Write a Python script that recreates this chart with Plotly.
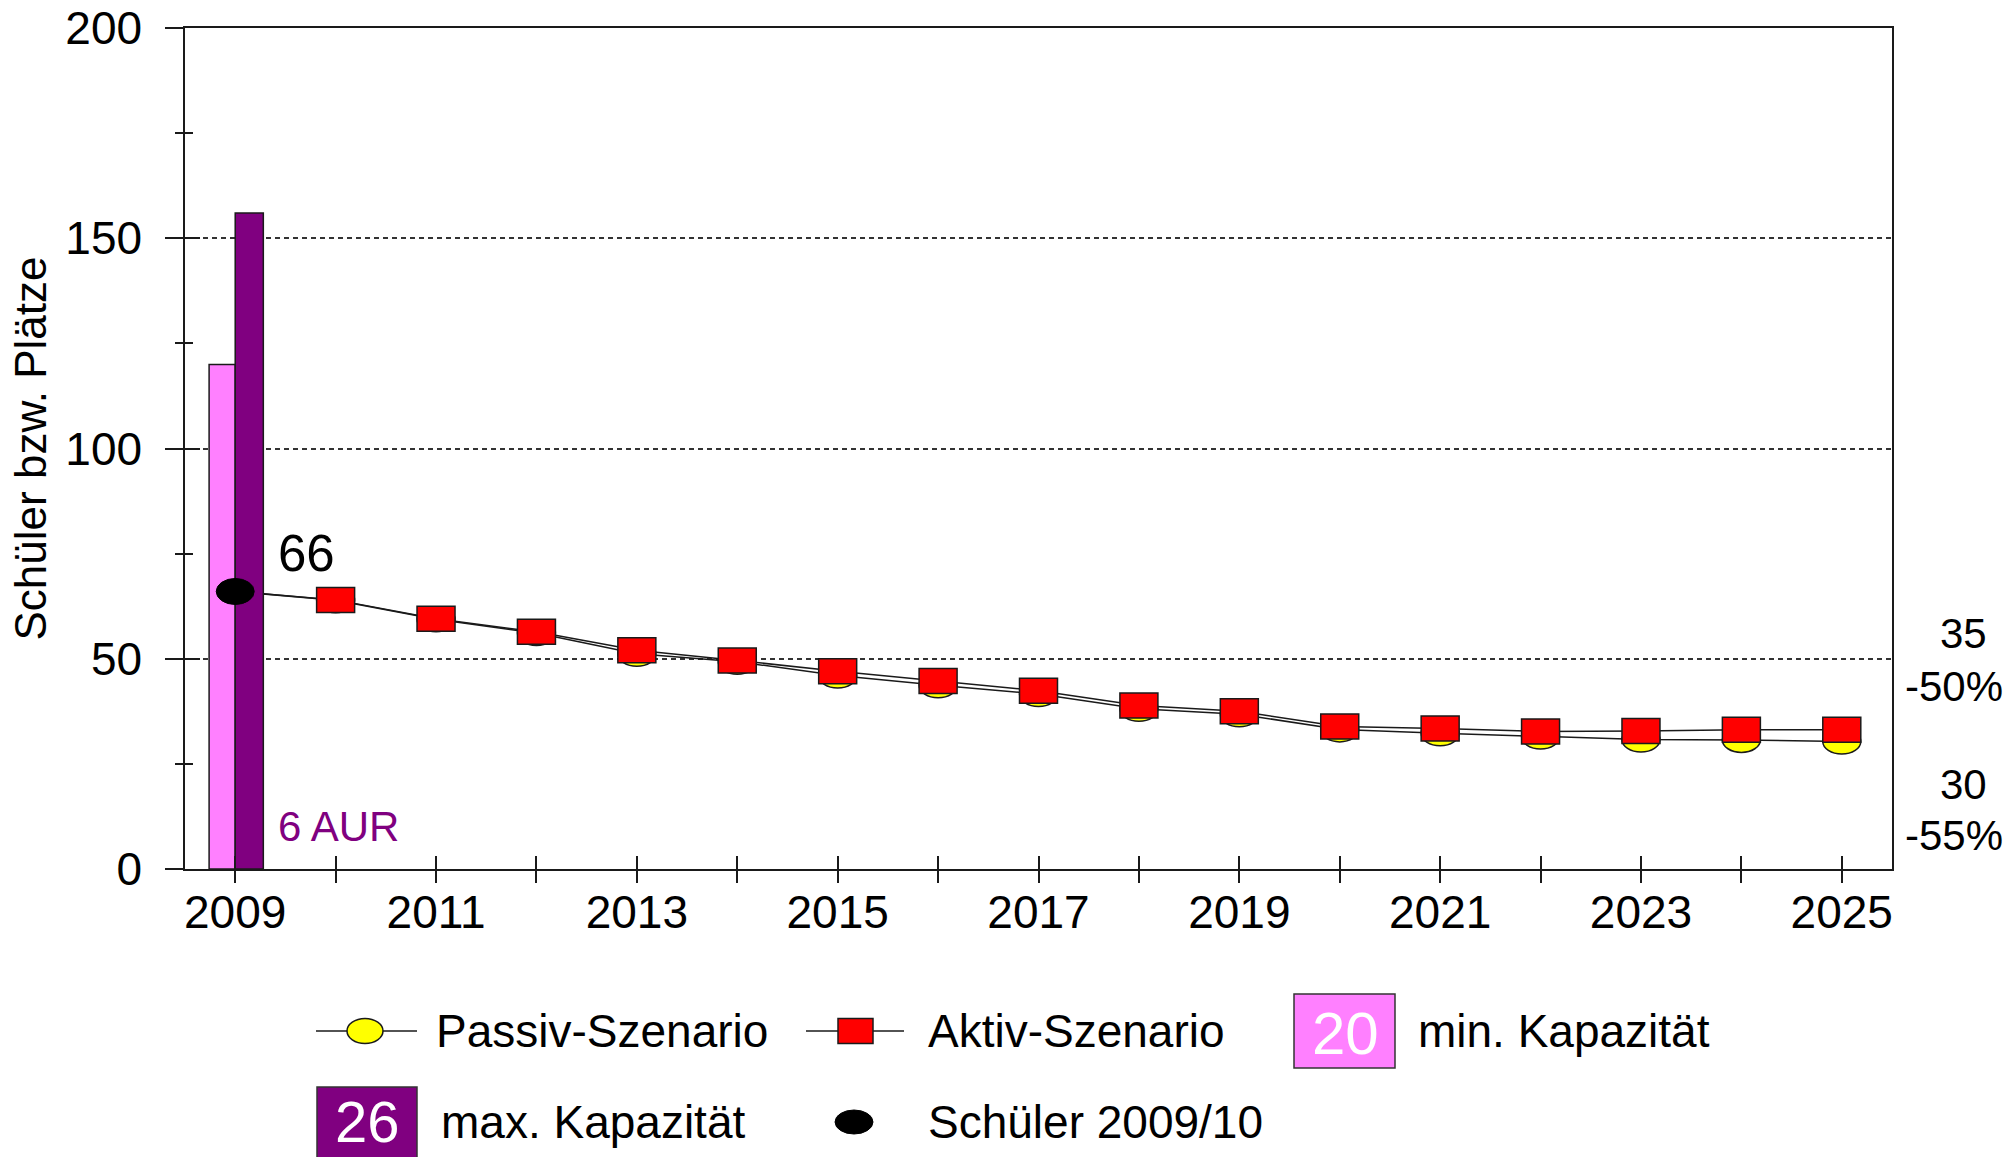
import plotly.graph_objects as go

# ---------------- data ----------------
years = [2009, 2010, 2011, 2012, 2013, 2014, 2015, 2016, 2017,
         2018, 2019, 2020, 2021, 2022, 2023, 2024, 2025]
aktiv = [66, 64, 59.5, 56.4, 52, 49.6, 47, 44.7, 42.4,
         38.9, 37.5, 33.9, 33.4, 32.7, 32.8, 33.1, 33.1]
passiv = [66, 63.9, 59.4, 56.1, 51.2, 49.3, 46, 43.7, 41.6,
          38.1, 36.8, 33.2, 32.3, 31.5, 30.8, 30.7, 30.3]
schueler_year = 2009
schueler_value = 66
cap_min = 120          # 6 classes x 20
cap_max = 156          # 6 classes x 26
cap_min_per_class = "20"
cap_max_per_class = "26"
school_label = "6 AUR"
end_labels = [("35", "-50%"), ("30", "-55%")]
x_tickvals = years
x_ticktext = ["2009", "", "2011", "", "2013", "", "2015", "", "2017", "",
              "2019", "", "2021", "", "2023", "", "2025"]
y_tickvals = [0, 50, 100, 150, 200]
y_ticktext = ["0", "50", "100", "150", "200"]
y_minor = [25, 75, 125, 175]

# ---------------- style ----------------
FONT = "Arial, Liberation Sans, sans-serif"
INK = "#1a1a1a"
PINK = "#FF80FF"
PURPLE = "#800080"
RED = "#FF0000"
YELLOW = "#FFFF00"
TICK_SIZE = 46
LEG_SIZE = 46

W, H = 2010, 1157
L, R, T, B = 185, 1892, 28, 869
PW, PH = R - L, B - T


def fx(px):
    return (px - L) / PW


def fy(py):
    return (B - py) / PH


fig = go.Figure()

# lines (base subplot)
for vals in (passiv, aktiv):
    fig.add_trace(go.Scatter(x=years, y=vals, mode="lines",
                             line=dict(color=INK, width=1.5),
                             showlegend=False, hoverinfo="skip"))

# capacity bars (overlay subplot, drawn on top of lines)
fig.add_trace(go.Bar(x=[schueler_year], y=[cap_min], width=0.26, offset=-0.26,
                     marker=dict(color=PINK, line=dict(color=INK, width=1.5)),
                     xaxis="x2", yaxis="y2", showlegend=False))
fig.add_trace(go.Bar(x=[schueler_year], y=[cap_max], width=0.28, offset=0,
                     marker=dict(color=PURPLE, line=dict(color=INK, width=1.5)),
                     xaxis="x2", yaxis="y2", showlegend=False))

shapes = []
# passive markers: yellow ellipses (pixel-sized, anchored to data)
for yr, v in zip(years[1:], passiv[1:]):
    shapes.append(dict(type="circle", xref="x", yref="y",
                       xsizemode="pixel", ysizemode="pixel",
                       xanchor=yr, yanchor=v, x0=-19, x1=19, y0=-12.5, y1=12.5,
                       fillcolor=YELLOW, line=dict(color=INK, width=1.5)))
# active markers: red rectangles
for yr, v in zip(years[1:], aktiv[1:]):
    shapes.append(dict(type="rect", xref="x", yref="y",
                       xsizemode="pixel", ysizemode="pixel",
                       xanchor=yr, yanchor=v, x0=-19, x1=19, y0=-12.5, y1=12.5,
                       fillcolor=RED, line=dict(color=INK, width=1.5)))
# pupils 2009/10: black ellipse
shapes.append(dict(type="circle", xref="x", yref="y",
                   xsizemode="pixel", ysizemode="pixel",
                   xanchor=schueler_year, yanchor=schueler_value,
                   x0=-19, x1=19, y0=-13, y1=13,
                   fillcolor="black", line=dict(color="black", width=1)))

annotations = []
annotations.append(dict(x=schueler_year, y=schueler_value, xref="x", yref="y",
                        text=str(schueler_value), showarrow=False,
                        xanchor="left", yanchor="middle", xshift=41, yshift=38,
                        font=dict(family=FONT, size=51, color="black")))
annotations.append(dict(x=schueler_year, y=fy(826), xref="x", yref="paper",
                        text=school_label, showarrow=False,
                        xanchor="left", yanchor="middle", xshift=41,
                        font=dict(family=FONT, size=42, color=PURPLE)))

# end labels at right
for (num, pct), (cy1, cy2) in zip(end_labels, [(633.5, 686), (784, 835)]):
    annotations.append(dict(x=fx(1964), y=fy(cy1), xref="paper", yref="paper",
                            text=num, showarrow=False, xanchor="center",
                            yanchor="middle",
                            font=dict(family=FONT, size=42, color="black")))
    annotations.append(dict(x=fx(1954), y=fy(cy2), xref="paper", yref="paper",
                            text=pct, showarrow=False, xanchor="center",
                            yanchor="middle",
                            font=dict(family=FONT, size=42, color="black")))

# ---------------- manual legend ----------------
def leg_text(px, py, txt):
    annotations.append(dict(x=fx(px), y=fy(py), xref="paper", yref="paper",
                            text=txt, showarrow=False, xanchor="left",
                            yanchor="middle",
                            font=dict(family=FONT, size=LEG_SIZE, color="black")))


def leg_shape(kind, x0, x1, y0, y1, fill, lc=INK, lw=1.5):
    shapes.append(dict(type=kind, xref="paper", yref="paper",
                       x0=fx(x0), x1=fx(x1), y0=fy(y0), y1=fy(y1),
                       fillcolor=fill, line=dict(color=lc, width=lw)))


r1, r2 = 1031, 1122
# Passiv
shapes.append(dict(type="line", xref="paper", yref="paper",
                   x0=fx(316), x1=fx(417), y0=fy(r1), y1=fy(r1),
                   line=dict(color=INK, width=1.5)))
leg_shape("circle", 347, 383, r1 - 12.5, r1 + 12.5, YELLOW)
leg_text(434, r1, "Passiv-Szenario")
# Aktiv
shapes.append(dict(type="line", xref="paper", yref="paper",
                   x0=fx(806), x1=fx(904), y0=fy(r1), y1=fy(r1),
                   line=dict(color=INK, width=1.5)))
leg_shape("rect", 838, 873, r1 - 12.5, r1 + 12.5, RED)
leg_text(926, r1, "Aktiv-Szenario")
# min capacity
leg_shape("rect", 1294, 1395, 994, 1068, PINK, lc="#333333")
annotations.append(dict(x=fx(1345), y=fy(1033), xref="paper", yref="paper",
                        text=cap_min_per_class, showarrow=False,
                        xanchor="center", yanchor="middle",
                        font=dict(family=FONT, size=60, color="white")))
leg_text(1416, r1, "min. Kapazität")
# max capacity
leg_shape("rect", 317, 417, 1087, 1162, PURPLE, lc="#333333")
annotations.append(dict(x=fx(367), y=fy(1121), xref="paper", yref="paper",
                        text=cap_max_per_class, showarrow=False,
                        xanchor="center", yanchor="middle",
                        font=dict(family=FONT, size=58, color="white")))
leg_text(439, r2, "max. Kapazität")
# pupils
leg_shape("circle", 835, 873, r2 - 12, r2 + 12, "black", lc="black", lw=1)
leg_text(926, r2, "Schüler 2009/10")

xrange = [2008.5, 2025.5]
yrange = [0, 200]

fig.update_layout(
    width=W, height=H,
    margin=dict(l=L, r=W - R, t=T, b=H - B, pad=0, autoexpand=False),
    paper_bgcolor="white", plot_bgcolor="white",
    showlegend=False,
    barmode="overlay",
    font=dict(family=FONT, size=TICK_SIZE, color="black"),
    xaxis=dict(range=xrange, tickmode="array", tickvals=x_tickvals,
               ticktext=x_ticktext, ticks="inside", ticklen=13,
               tickwidth=1.5, tickcolor=INK, showline=True, linecolor=INK,
               linewidth=1.5, mirror=True, showgrid=False, zeroline=False,
               tickfont=dict(family=FONT, size=TICK_SIZE, color="black"),
               ticklabelstandoff=2, automargin=False, fixedrange=True),
    yaxis=dict(range=yrange, tickmode="array", tickvals=y_tickvals,
               ticktext=y_ticktext, ticks="outside", ticklen=18,
               tickwidth=1.5, tickcolor=INK, showline=True, linecolor=INK,
               linewidth=1.5, mirror=True, showgrid=True, gridcolor="#333333",
               gridwidth=1.5, griddash="5px,4px", zeroline=False,
               minor=dict(tickmode="array", tickvals=y_minor,
                          ticks="outside", ticklen=8, tickwidth=1.5,
                          tickcolor=INK, showgrid=False),
               tickfont=dict(family=FONT, size=TICK_SIZE, color="black"),
               ticklabelstandoff=14, automargin=False,
               title=dict(text="Schüler bzw. Plätze", standoff=5,
                          font=dict(family=FONT, size=44, color="black")),
               fixedrange=True),
    xaxis2=dict(range=xrange, overlaying="x", side="bottom", tickmode="array",
                tickvals=x_tickvals, ticks="outside", ticklen=13, tickwidth=1.5,
                tickcolor=INK, showticklabels=False, showgrid=False,
                showline=False, zeroline=False, automargin=False,
                fixedrange=True),
    yaxis2=dict(range=yrange, overlaying="y", side="left", tickmode="array",
                tickvals=y_tickvals, ticks="inside", ticklen=15, tickwidth=1.5,
                tickcolor=INK, showticklabels=False, showgrid=False,
                showline=False, zeroline=False, automargin=False,
                minor=dict(tickmode="array", tickvals=y_minor,
                           ticks="inside", ticklen=8, tickwidth=1.5,
                           tickcolor=INK, showgrid=False),
                fixedrange=True),
    shapes=shapes,
    annotations=annotations,
)

fig.write_html(
    "out.html",
    config={"displayModeBar": False},
    post_script="document.body.style.margin='0px';"
                "document.body.style.overflow='hidden';",
)
